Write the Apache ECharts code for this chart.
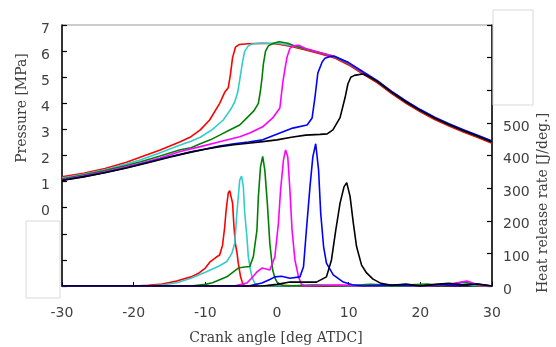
<!DOCTYPE html>
<html>
<head>
<meta charset="utf-8">
<script src="https://cdn.jsdelivr.net/npm/echarts@6/dist/echarts.min.js"></script>
<style>html,body{margin:0;padding:0;background:#fff}#c{width:556px;height:347px}</style>
</head>
<body>
<div id="c"></div>
<script>
// ---- data (crank angle [deg ATDC], value) ----
var seriesNames = ['red', 'cyan', 'green', 'magenta', 'blue', 'black'];
var seriesColors = ['#ff0000', '#33cccc', '#008000', '#ff00ff', '#0000ff', '#000000'];
var xTicks = [-30, -20, -10, 0, 10, 20, 30];

// Pressure [MPa]
var pRed = [[-30,1.18],[-27,1.32],[-24,1.5],[-21,1.74],[-19,1.94],[-16.3,2.21],[-13.5,2.53],[-12,2.72],[-10.7,2.98],[-9.4,3.36],[-8,4.0],[-7.3,4.42],[-6.8,4.6],[-6.5,5.1],[-6.2,5.75],[-5.8,6.15],[-5.3,6.25],[-4,6.28],[-2,6.3],[0,6.27],[2,6.18],[4,6.04],[6,5.9],[8,5.74],[10,5.47],[12,5.12],[14,4.78],[16,4.37],[18,4.0],[20,3.67],[22,3.38],[24,3.13],[26,2.9],[28,2.69],[30,2.47]];
var pCyan = [[-30,1.14],[-27,1.28],[-24,1.45],[-21,1.67],[-19,1.84],[-16.3,2.11],[-13.5,2.4],[-12,2.55],[-10.7,2.7],[-9,3.0],[-7.5,3.36],[-6.5,3.75],[-5.9,4.05],[-5.5,4.4],[-5.2,4.9],[-4.8,5.6],[-4.5,6.0],[-4,6.2],[-3.5,6.27],[-2,6.3],[0,6.3],[2,6.22],[4,6.08],[6,5.94],[8,5.78],[10,5.52],[12,5.17],[14,4.83],[16,4.42],[18,4.05],[20,3.72],[22,3.43],[24,3.18],[26,2.95],[28,2.74],[30,2.52]];
var pGreen = [[-30,1.1],[-27,1.25],[-24,1.42],[-21,1.62],[-19,1.76],[-16.3,1.98],[-13.5,2.22],[-12,2.3],[-10.7,2.45],[-9.3,2.6],[-8,2.78],[-6.6,2.98],[-5.2,3.17],[-4.2,3.44],[-3.2,3.72],[-2.6,4.0],[-2.3,4.5],[-2.1,4.95],[-1.9,5.5],[-1.6,6.0],[-1.2,6.2],[-0.5,6.3],[0.3,6.36],[1.5,6.3],[2.5,6.2],[4,6.08],[6,5.94],[8,5.78],[10,5.52],[12,5.17],[14,4.83],[16,4.42],[18,4.05],[20,3.72],[22,3.43],[24,3.18],[26,2.95],[28,2.74],[30,2.52]];
var pMagenta = [[-30,1.07],[-27,1.22],[-24,1.38],[-21,1.57],[-19,1.7],[-16.3,1.9],[-13.5,2.15],[-10.7,2.34],[-8,2.53],[-5.2,2.72],[-3.8,2.86],[-2,3.1],[-0.6,3.44],[0.4,3.82],[0.8,4.78],[1.1,5.3],[1.4,5.77],[1.8,6.1],[2.2,6.2],[3,6.22],[4,6.1],[6,5.95],[8,5.8],[10,5.54],[12,5.19],[14,4.85],[16,4.44],[18,4.07],[20,3.74],[22,3.45],[24,3.2],[26,2.97],[28,2.76],[30,2.54]];
var pBlue = [[-30,1.05],[-27,1.19],[-24,1.35],[-21,1.53],[-18,1.74],[-15,1.95],[-12,2.14],[-10,2.25],[-8,2.36],[-6,2.45],[-4,2.52],[-2,2.6],[0.4,2.86],[2.2,3.05],[4.2,3.17],[4.9,3.44],[5.3,4.24],[5.7,5.16],[6.3,5.58],[6.7,5.73],[7.5,5.8],[8,5.8],[10,5.56],[12,5.21],[14,4.87],[16,4.46],[18,4.09],[20,3.76],[22,3.47],[24,3.22],[26,2.99],[28,2.78],[30,2.56]];
var pBlack = [[-30,1.04],[-27,1.18],[-24,1.34],[-21,1.52],[-18,1.72],[-15,1.93],[-12,2.13],[-10,2.24],[-8,2.34],[-6,2.41],[-4,2.47],[-2,2.53],[0,2.6],[2,2.7],[4,2.78],[6,2.81],[7,2.83],[7.8,2.98],[8.8,3.45],[9.5,4.22],[9.9,4.75],[10.3,5.0],[10.8,5.07],[11.4,5.1],[12,5.12],[13,5.0],[14,4.83],[16,4.42],[18,4.05],[20,3.72],[22,3.43],[24,3.18],[26,2.95],[28,2.74],[30,2.52]];

// Heat release rate [J/deg.]
var hRed = [[-30,0],[-20,0],[-18,2],[-16,6],[-14,15],[-12,28],[-11,38],[-10,55],[-9.3,75],[-8.5,88],[-8,95],[-7.6,125],[-7.3,180],[-7.1,233],[-6.8,285],[-6.6,292],[-6.4,290],[-6.2,254],[-6,180],[-5.8,128],[-5.6,105],[-5.4,70],[-5.1,30],[-4.8,8],[-4.5,0],[-2,0],[0,3],[3,0],[8,2],[12,0],[16,4],[19,0],[22,3],[25,0],[27,8],[28,0],[30,0]];
var hCyan = [[-30,0],[-18,0],[-16,3],[-14,10],[-12,24],[-10,42],[-9,52],[-8,62],[-7,75],[-6.3,100],[-5.9,131],[-5.6,223],[-5.4,274],[-5.2,325],[-4.95,337],[-4.7,305],[-4.5,223],[-4.2,151],[-4,89],[-3.7,50],[-3.5,28],[-3.1,8],[-2.5,0],[2,0],[6,3],[10,0],[15,2],[20,0],[24,4],[26,10],[27,2],[30,0]];
var hGreen = [[-30,0],[-12,0],[-10,5],[-9,10],[-7,28],[-5.4,55],[-4.5,58],[-3.8,60],[-3.3,90],[-2.8,171],[-2.6,274],[-2.3,365],[-2.0,397],[-1.7,355],[-1.35,254],[-1,131],[-0.6,49],[-0.3,25],[0,12],[0.5,5],[1,0],[5,3],[9,0],[13,5],[17,2],[21,6],[23,0],[26,12],[28,3],[30,0]];
var hMagenta = [[-30,0],[-6,0],[-4.2,9],[-3.5,25],[-2.8,43],[-2.1,55],[-1.5,52],[-1,49],[-0.3,89],[0.2,193],[0.5,295],[0.9,386],[1.2,417],[1.5,396],[1.8,295],[2.1,172],[2.5,80],[3,28],[3.4,6],[4,0],[9,3],[12,0],[17,4],[21,0],[24,5],[26.5,15],[28,4],[30,0]];
var hBlue = [[-30,0],[-4,0],[-2.1,9],[-1,20],[-0.3,28],[0.65,30],[1.8,24],[3.2,28],[3.7,59],[4.1,171],[4.6,304],[5,396],[5.4,436],[5.8,356],[6.1,223],[6.5,121],[6.9,70],[7.85,34],[9.25,12],[10.5,4],[12,0],[16,3],[20,0],[23,5],[25,0],[28,6],[30,0]];
var hBlack = [[-30,0],[-2,0],[0,5],[1.8,12],[5.5,12],[6.9,28],[7.6,80],[8.2,171],[8.8,254],[9.35,304],[9.73,317],[10.2,274],[10.65,193],[11.1,121],[11.8,64],[12.5,40],[13.4,21],[14.5,8],[16,2],[18,6],[20,0],[22,5],[24,8],[26,3],[28,6],[30,0]];

var pressureSets = [pRed, pCyan, pGreen, pMagenta, pBlue, pBlack];
var hrrSets = [hRed, hCyan, hGreen, hMagenta, hBlue, hBlack];

var chart = echarts.init(document.getElementById('c'), null, {renderer: 'canvas'});
var tickFont = {fontFamily: 'DejaVu Sans', fontSize: 14, color: '#404040'};
var series = [];
for (var i = 0; i < seriesNames.length; i++) {
  series.push({name: 'P-' + seriesNames[i], type: 'line', xAxisIndex: 0, yAxisIndex: 0, data: pressureSets[i],
    showSymbol: false, smooth: false, lineStyle: {color: seriesColors[i], width: 1.6}, itemStyle: {color: seriesColors[i]}, z: 2 + i, animation: false});
}
for (var j = 0; j < seriesNames.length; j++) {
  series.push({name: 'H-' + seriesNames[j], type: 'line', xAxisIndex: 0, yAxisIndex: 1, data: hrrSets[j],
    showSymbol: false, smooth: false, lineStyle: {color: seriesColors[j], width: 1.6}, itemStyle: {color: seriesColors[j]}, z: 2 + j, animation: false});
}

chart.setOption({
  animation: false,
  backgroundColor: '#ffffff',
  grid: {left: 62, right: 64, top: 25, bottom: 61, show: true, borderColor: '#9a9a9a', borderWidth: 1, backgroundColor: 'transparent'},
  xAxis: {
    type: 'value', min: -30, max: 30, interval: 10,
    axisLine: {show: true, onZero: false, lineStyle: {color: '#000', width: 1.5}},
    axisTick: {show: true, inside: true, length: 4, lineStyle: {color: '#000'}},
    splitLine: {show: false},
    axisLabel: Object.assign({margin: 20, formatter: function (v) { return xTicks.indexOf(v) >= 0 ? String(v) : ''; }}, tickFont)
  },
  yAxis: [{
    type: 'value', min: -3, max: 7, interval: 1, position: 'left',
    axisLine: {show: true, onZero: false, lineStyle: {color: '#000', width: 1.5}},
    axisTick: {show: true, inside: true, length: 5, lineStyle: {color: '#000', width: 1.2}},
    splitLine: {show: false},
    axisLabel: Object.assign({margin: 12, verticalAlign: 'top', lineHeight: 8, formatter: function (v) { return v < 0 ? '' : String(v); }}, tickFont)
  }, {
    type: 'value', min: 0, max: 800, interval: 100, position: 'right',
    axisLine: {show: true, onZero: false, lineStyle: {color: '#000', width: 1.5}},
    axisTick: {show: true, inside: true, length: 5, lineStyle: {color: '#000', width: 1.2}},
    splitLine: {show: false},
    axisLabel: Object.assign({margin: 11, verticalAlign: 'top', lineHeight: 8, formatter: function (v) { return v > 500 ? '' : String(v); }}, tickFont)
  }],
  series: series,
  graphic: [
    {type: 'rect', z: 100, shape: {x: 26, y: 221, width: 34, height: 77}, style: {fill: '#fff', stroke: '#d9d9d9', lineWidth: 1}},
    {type: 'rect', z: 100, shape: {x: 493, y: 10, width: 40, height: 95}, style: {fill: '#fff', stroke: '#d9d9d9', lineWidth: 1}},
    {type: 'text', z: 100, x: 22, y: 108, rotation: Math.PI / 2,
      style: {text: 'Pressure [MPa]', font: '14px "DejaVu Serif"', fill: '#404040', textAlign: 'center', textVerticalAlign: 'middle'}},
    {type: 'text', z: 100, x: 543, y: 203, rotation: Math.PI / 2,
      style: {text: 'Heat release rate [J/deg.]', font: '14px "DejaVu Serif"', fill: '#404040', textAlign: 'center', textVerticalAlign: 'middle'}},
    {type: 'text', z: 100, x: 276, y: 338,
      style: {text: 'Crank angle [deg ATDC]', font: '14px "DejaVu Serif"', fill: '#404040', textAlign: 'center', textVerticalAlign: 'middle'}}
  ]
});
</script>
</body>
</html>
